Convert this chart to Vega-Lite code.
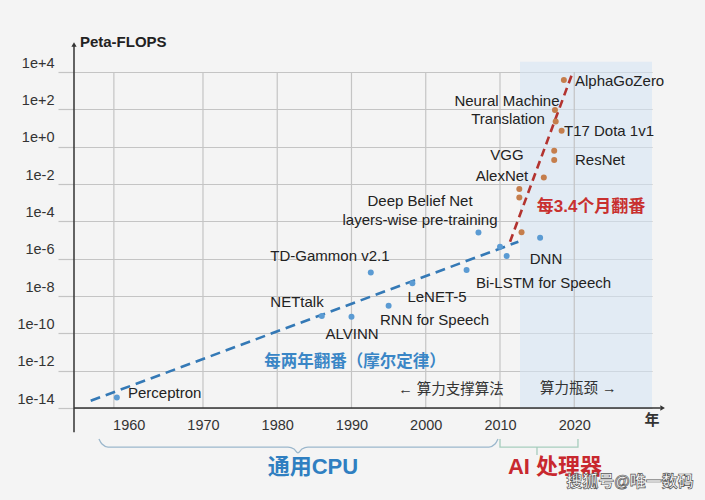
{
  "$schema": "https://vega.github.io/schema/vega-lite/v6.json",
  "width": 578,
  "height": 336,
  "autosize": {"type": "none"},
  "padding": {"left": 74, "top": 72, "right": 53, "bottom": 92},
  "background": "#f4f4f4",
  "config": {
    "view": {"stroke": null},
    "font": "Liberation Sans, Noto Sans CJK SC",
    "text": {"font": "Liberation Sans, Noto Sans CJK SC"}
  },
  "datasets": {
    "shade": [{"year": 2012.69, "year2": 2030.47, "v": 1e-14, "v2": 3.5e4}],
    "vgrid": [
      {"year": 1958.0, "v": 1e-14, "v2": 1e4},
      {"year": 1970, "v": 1e-14, "v2": 1e4},
      {"year": 1980, "v": 1e-14, "v2": 1e4},
      {"year": 1990, "v": 1e-14, "v2": 1e4},
      {"year": 2000, "v": 1e-14, "v2": 1e4},
      {"year": 2010, "v": 1e-14, "v2": 1e4},
      {"year": 2020, "v": 1e-14, "v2": 1e4}
    ],
    "yaxis": [{"year": 1952.63, "v": 5.1e-16, "v2": 2.8e5}],
    "xaxis": [{"year": 1952.63, "year2": 2031.6, "v": 1e-14}],
    "arrows_up": [{"year": 1952.63, "v": 3.0e5}],
    "arrows_right": [{"year": 2031.9, "v": 1e-14}],
    "trend": [
      {"seg": "cpu", "year": 1954.88, "v": 2.45e-14},
      {"seg": "cpu", "year": 2012.47, "v": 8.1e-6},
      {"seg": "ai", "year": 2011.35, "v": 8.1e-6},
      {"seg": "ai", "year": 2019.66, "v": 6.9e3}
    ],
    "cpu_models": [
      {"name": "Perceptron", "year": 1958.4, "v": 3.6e-14},
      {"name": "NETtalk", "year": 1986.0, "v": 8.5e-10},
      {"name": "ALVINN", "year": 1990.0, "v": 7.8e-10},
      {"name": "TD-Gammon v2.1", "year": 1992.6, "v": 1.8e-7},
      {"name": "RNN for Speech", "year": 1995.0, "v": 3.0e-9},
      {"name": "LeNET-5", "year": 1998.2, "v": 4.8e-8},
      {"name": "Bi-LSTM for Speech", "year": 2005.5, "v": 2.5e-7},
      {"name": "Deep Belief Net", "year": 2007.1, "v": 2.5e-5},
      {"name": "model a", "year": 2010.0, "v": 4.4e-6},
      {"name": "model b", "year": 2010.9, "v": 1.4e-6},
      {"name": "DNN", "year": 2015.4, "v": 1.3e-5}
    ],
    "ai_models": [
      {"name": "AlphaGoZero", "year": 2018.6, "v": 3.7e3},
      {"name": "Neural Machine Translation", "year": 2017.4, "v": 91},
      {"name": "model c", "year": 2017.5, "v": 22},
      {"name": "T17 Dota 1v1", "year": 2018.3, "v": 7.2},
      {"name": "ResNet", "year": 2017.3, "v": 0.6},
      {"name": "model d", "year": 2017.3, "v": 0.195},
      {"name": "VGG", "year": 2015.9, "v": 0.022},
      {"name": "AlexNet", "year": 2012.6, "v": 5.4e-3},
      {"name": "model e", "year": 2012.6, "v": 1.9e-3},
      {"name": "model f", "year": 2012.9, "v": 2.6e-5}
    ],
    "labels_left": [
      {"text": "Perceptron", "year": 1959.9, "v": 6.3e-14},
      {"text": "RNN for Speech", "year": 1993.84, "v": 5.1e-10},
      {"text": "Bi-LSTM for Speech", "year": 2006.77, "v": 5.0e-8},
      {"text": "AlphaGoZero", "year": 2020.1, "v": 3.3e3},
      {"text": "T17 Dota 1v1", "year": 2018.62, "v": 6.9},
      {"text": "ResNet", "year": 2020.1, "v": 0.195}
    ],
    "labels_center": [
      {"text": "NETtalk", "year": 1982.66, "v": 4.8e-9},
      {"text": "ALVINN", "year": 1990.07, "v": 9.1e-11},
      {"text": "TD-Gammon v2.1", "year": 1987.1, "v": 1.4e-6},
      {"text": "LeNET-5", "year": 2001.52, "v": 8.9e-9},
      {"text": "Deep Belief Net", "year": 1999.23, "v": 1.23e-3},
      {"text": "layers-wise pre-training", "year": 1999.23, "v": 1.17e-4},
      {"text": "DNN", "year": 2016.2, "v": 9.5e-7},
      {"text": "Neural Machine", "year": 2010.94, "v": 2.8e2},
      {"text": "Translation", "year": 2011.08, "v": 30},
      {"text": "VGG", "year": 2010.94, "v": 0.355},
      {"text": "AlexNet", "year": 2010.27, "v": 0.027}
    ],
    "note_cpu": [{"text": "每两年翻番（摩尔定律）", "year": 1990.47, "v": 2.9e-12}],
    "note_ai": [{"text": "每3.4个月翻番", "year": 2022.26, "v": 5.9e-4}],
    "phases": [
      {"text": "←  算力支撑算法", "year": 1996.3, "v": 9.1e-14},
      {"text": "算力瓶颈 →", "year": 2015.39, "v": 1.05e-13}
    ],
    "xunit": [{"text": "年", "year": 2030.47, "v": 2.3e-15}],
    "yunit": [{"text": "Peta-FLOPS", "year": 1953.43, "v": 4.1e5}],
    "era_cpu": [{"text": "通用CPU", "year": 1984.81, "v": 6.9e-18}],
    "era_ai": [{"text": "AI 处理器", "year": 2017.41, "v": 6.9e-18}],
    "watermark": [{"text": "搜狐号@唯一数码", "year": 2027.51, "v": 1.1e-18}],
    "brace_cpu": [
      {"ord": 1, "year": 1955.99, "v": 2.2e-16},
      {"ord": 2, "year": 1956.4, "v": 1.17e-16},
      {"ord": 3, "year": 1957.21, "v": 8.1e-17},
      {"ord": 4, "year": 1981.45, "v": 8.1e-17},
      {"ord": 5, "year": 1982.26, "v": 6.3e-17},
      {"ord": 6, "year": 1982.79, "v": 3.9e-17},
      {"ord": 7, "year": 1983.33, "v": 6.3e-17},
      {"ord": 8, "year": 1984.14, "v": 8.1e-17},
      {"ord": 9, "year": 2008.52, "v": 8.1e-17},
      {"ord": 10, "year": 2009.33, "v": 1.17e-16},
      {"ord": 11, "year": 2009.73, "v": 2.2e-16}
    ],
    "brace_ai": [
      {"seg": "a", "ord": 1, "year": 2010.0, "v": 2.2e-16},
      {"seg": "a", "ord": 2, "year": 2010.0, "v": 8.1e-17},
      {"seg": "a", "ord": 3, "year": 2020.5, "v": 8.1e-17},
      {"seg": "a", "ord": 4, "year": 2020.5, "v": 2.2e-16},
      {"seg": "b", "ord": 1, "year": 2014.98, "v": 8.1e-17},
      {"seg": "b", "ord": 2, "year": 2014.98, "v": 3.0e-17}
    ]
  },
  "encoding": {
    "x": {
      "field": "year",
      "type": "quantitative",
      "scale": {"domain": [1952.63, 2030.47], "nice": false, "zero": false},
      "axis": {
        "title": null,
        "values": [1960, 1970, 1980, 1990, 2000, 2010, 2020],
        "format": "d",
        "grid": false,
        "domain": false,
        "ticks": false,
        "tickSize": 0,
        "labelPadding": 10,
        "labelFontSize": 14.5,
        "labelColor": "#333333",
        "labelFont": "Liberation Sans"
      }
    },
    "y": {
      "field": "v",
      "type": "quantitative",
      "scale": {"type": "log", "domain": [1e-14, 1e4], "nice": false},
      "axis": {
        "title": null,
        "values": [1e-14, 1e-12, 1e-10, 1e-8, 1e-6, 1e-4, 1e-2, 1, 100, 10000],
        "labelExpr": "'1e' + (round(log(datum.value)/LN10) >= 0 ? '+' : '') + round(log(datum.value)/LN10)",
        "grid": true,
        "gridColor": "#c4c4c4",
        "gridWidth": 1.2,
        "domain": false,
        "ticks": true,
        "tickSize": 16,
        "tickColor": "#c4c4c4",
        "tickWidth": 1.2,
        "labelPadding": 4,
        "labelOffset": -9,
        "labelFontSize": 14.5,
        "labelColor": "#333333",
        "labelFont": "Liberation Sans"
      }
    }
  },
  "layer": [
    {
      "data": {"name": "shade"},
      "mark": {"type": "rect", "color": "#d6e5f4", "opacity": 0.6},
      "encoding": {"x2": {"field": "year2"}, "y2": {"field": "v2"}}
    },
    {
      "data": {"name": "vgrid"},
      "mark": {"type": "rule", "color": "#c4c4c4", "strokeWidth": 1.2},
      "encoding": {"y2": {"field": "v2"}}
    },
    {
      "data": {"name": "yaxis"},
      "mark": {"type": "rule", "color": "#333333", "strokeWidth": 1.5},
      "encoding": {"y2": {"field": "v2"}}
    },
    {
      "data": {"name": "xaxis"},
      "mark": {"type": "rule", "color": "#333333", "strokeWidth": 1.5},
      "encoding": {"x2": {"field": "year2"}}
    },
    {
      "data": {"name": "arrows_up"},
      "mark": {"type": "point", "shape": "triangle-up", "filled": true, "color": "#333333", "size": 28, "opacity": 1}
    },
    {
      "data": {"name": "arrows_right"},
      "mark": {"type": "point", "shape": "triangle-right", "filled": true, "color": "#333333", "size": 28, "opacity": 1}
    },
    {
      "data": {"name": "trend"},
      "transform": [{"filter": "datum.seg === 'cpu'"}],
      "mark": {"type": "line", "color": "#3479b6", "strokeWidth": 2.6, "strokeDash": [10, 6]}
    },
    {
      "data": {"name": "trend"},
      "transform": [{"filter": "datum.seg === 'ai'"}],
      "mark": {"type": "line", "color": "#b3332f", "strokeWidth": 2.6, "strokeDash": [8, 5]}
    },
    {
      "data": {"name": "cpu_models"},
      "mark": {"type": "circle", "color": "#5b9bd3", "size": 36, "opacity": 1}
    },
    {
      "data": {"name": "ai_models"},
      "mark": {"type": "circle", "color": "#c57e4c", "size": 36, "opacity": 1}
    },
    {
      "data": {"name": "labels_left"},
      "mark": {"type": "text", "align": "left", "baseline": "middle", "fontSize": 15, "color": "#222222"},
      "encoding": {"text": {"field": "text"}}
    },
    {
      "data": {"name": "labels_center"},
      "mark": {"type": "text", "align": "center", "baseline": "middle", "fontSize": 15, "color": "#222222"},
      "encoding": {"text": {"field": "text"}}
    },
    {
      "data": {"name": "note_cpu"},
      "mark": {"type": "text", "align": "center", "baseline": "middle", "fontSize": 16.5, "fontWeight": "bold", "color": "#3a86c6"},
      "encoding": {"text": {"field": "text"}}
    },
    {
      "data": {"name": "note_ai"},
      "mark": {"type": "text", "align": "center", "baseline": "middle", "fontSize": 17, "fontWeight": "bold", "color": "#c8302f"},
      "encoding": {"text": {"field": "text"}}
    },
    {
      "data": {"name": "phases"},
      "mark": {"type": "text", "align": "left", "baseline": "middle", "fontSize": 14.5, "color": "#333333"},
      "encoding": {"text": {"field": "text"}}
    },
    {
      "data": {"name": "xunit"},
      "mark": {"type": "text", "align": "center", "baseline": "middle", "fontSize": 15, "fontWeight": "bold", "color": "#333333"},
      "encoding": {"text": {"field": "text"}}
    },
    {
      "data": {"name": "yunit"},
      "mark": {"type": "text", "align": "left", "baseline": "middle", "fontSize": 15, "fontWeight": "bold", "color": "#222222"},
      "encoding": {"text": {"field": "text"}}
    },
    {
      "data": {"name": "brace_cpu"},
      "mark": {"type": "line", "color": "#9bb7cc", "strokeWidth": 1.3, "interpolate": "monotone"},
      "encoding": {"order": {"field": "ord"}}
    },
    {
      "data": {"name": "brace_ai"},
      "mark": {"type": "line", "color": "#a6cdbd", "strokeWidth": 1.3},
      "encoding": {"order": {"field": "ord"}, "detail": {"field": "seg"}}
    },
    {
      "data": {"name": "era_cpu"},
      "mark": {"type": "text", "align": "center", "baseline": "middle", "fontSize": 22, "fontWeight": "bold", "color": "#2f7fc1"},
      "encoding": {"text": {"field": "text"}}
    },
    {
      "data": {"name": "era_ai"},
      "mark": {"type": "text", "align": "center", "baseline": "middle", "fontSize": 22, "fontWeight": "bold", "color": "#c8282e"},
      "encoding": {"text": {"field": "text"}}
    },
    {
      "data": {"name": "watermark"},
      "mark": {"type": "text", "align": "center", "baseline": "middle", "fontSize": 16, "fontWeight": "bold", "color": "#ffffff", "stroke": "#555555", "strokeWidth": 0.7},
      "encoding": {"text": {"field": "text"}}
    }
  ]
}
